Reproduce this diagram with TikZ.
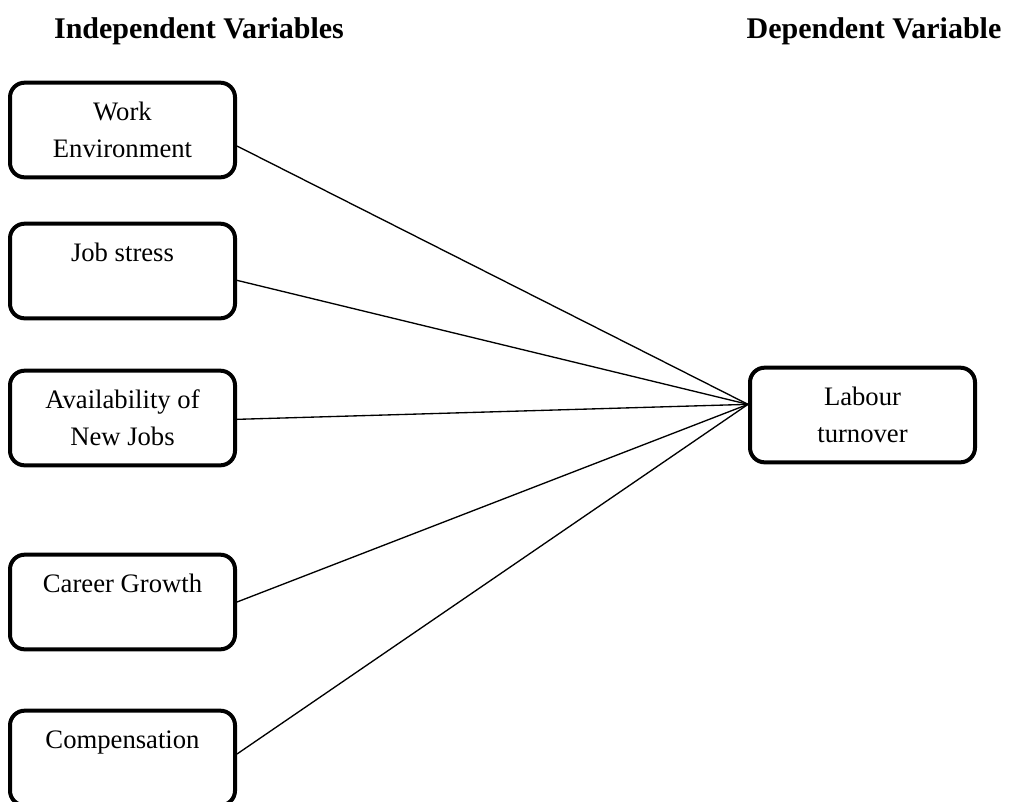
\documentclass[tikz,border=0pt]{standalone}
\usepackage{fontspec}
\setmainfont{Liberation Serif}

\tikzset{every picture/.style={line width=0.75pt}}
\tikzset{
  varbox/.style={draw, line width=3pt, rounded corners=11pt, align=center,
    minimum width=168.75pt, minimum height=71pt, inner sep=0pt,
    font=\fontsize{20}{27.5}\selectfont},
  heading/.style={font=\fontsize{22.5}{27}\selectfont\bfseries, inner sep=0pt},
  link/.style={line width=1pt}
}

\begin{document}
\begin{tikzpicture}[x=0.75pt,y=0.75pt,yscale=-1,xscale=1]
\useasboundingbox (0,0) rectangle (1011,801);

% headings
\node (indep) [heading] at (199,31) {Independent Variables};
\node (dep) [heading] at (874,31) {Dependent Variable};

% independent variables
\node (env) [varbox] at (122.5,130) {Work\\Environment};
\node (stress) [varbox] at (122.5,271) {Job stress\\\mbox{}};
\node (avail) [varbox] at (122.5,418) {Availability of\\New Jobs};
\node (career) [varbox] at (122.5,602) {Career Growth\\\mbox{}};
\node (comp) [varbox] at (122.5,758) {Compensation\\\mbox{}};

% dependent variable
\node (turn) [varbox] at (862.5,415) {Labour\\turnover};
\coordinate (meet) at ([yshift=-8pt]turn.west);

% links
\draw [link] ([yshift=12pt]env.east) -- (meet);
\draw [link] ([yshift=7pt]stress.east) -- (meet);
\draw [link] ([yshift=1pt]avail.east) -- (meet);
\draw [link] (career.east) -- (meet);
\draw [link] ([yshift=-3pt]comp.east) -- (meet);

\end{tikzpicture}
\end{document}
